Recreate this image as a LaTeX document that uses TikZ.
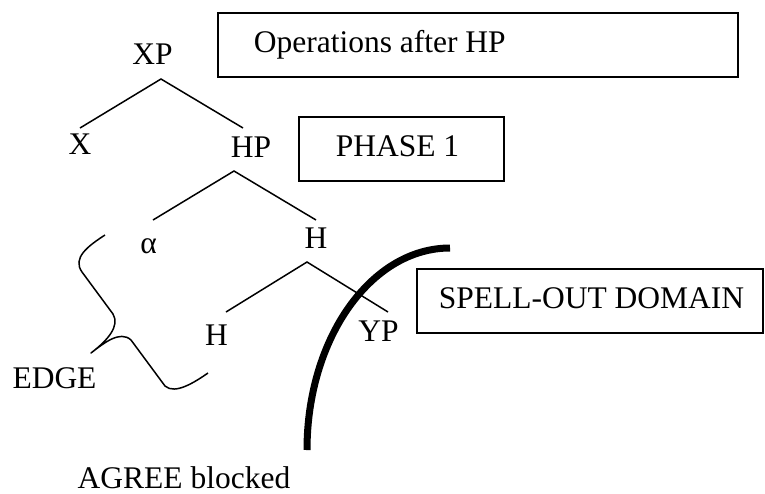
\documentclass[tikz,border=0pt]{standalone}
\usepackage{fontspec}
\setmainfont{Liberation Serif}
\begin{document}
\begin{tikzpicture}[x=1pt,y=-1pt,
  lab/.style={font=\fontsize{31.5}{36}\selectfont, inner sep=0pt, anchor=base},
  box/.style={draw, line width=1.6pt, anchor=north west, minimum height=64pt,
    text height=21pt, text depth=5pt,
    font=\fontsize{31.5}{36}\selectfont},
  branch/.style={line width=1.5pt},
  brace/.style={line width=1.5pt, line join=round}]
\useasboundingbox (0,0) rectangle (765,493);

% labelled boxes (text set flush left in a fixed-width box)
\node[box, inner xsep=36pt] (ops) at (217,12) {\makebox[448pt][l]{Operations after HP}};
\node[box, inner xsep=37pt] (phase) at (298,116) {\makebox[131pt][l]{PHASE 1}};
\node[box, inner xsep=22pt] (spell) at (416,268) {\makebox[302pt][l]{SPELL-OUT DOMAIN}};

% tree labels
\node[lab] (xp) at (152.5,64) {XP};
\node[lab] (x) at (80,154) {X};
\node[lab] (hp) at (251,157) {HP};
\node[lab] (alpha) at (148.5,253) {α};
\node[lab] (hbar) at (316,248) {H};
\node[lab] (h) at (216.5,345) {H};
\node[lab] (yp) at (378.5,341) {YP};
\node[lab] (edge) at (54.5,388) {EDGE};
\node[lab] (agree) at (184,488.5) {AGREE blocked};

% branch points
\coordinate (xpa) at (161,79);
\coordinate (xpl) at (80,128);
\coordinate (xpr) at (243,128);
\coordinate (hpa) at (234,171);
\coordinate (hpl) at (153,220);
\coordinate (hpr) at (316,220);
\coordinate (ha) at (307,262);
\coordinate (hl) at (226,312);
\coordinate (hr) at (388,312);

\draw[branch] (xpl) -- (xpa) -- (xpr);
\draw[branch] (hpl) -- (hpa) -- (hpr);
\draw[branch] (hl) -- (ha) -- (hr);

% brace marking the edge
\draw[brace] (105,235) .. controls (88,246) and (72,258) .. (82,272)
  -- (113,314) .. controls (120,326) and (108,340) .. (91,353)
  .. controls (104,343) and (120,330) .. (131,340)
  -- (165,386) .. controls (175,395) and (195,382) .. (208,373);

% boundary of the spell-out domain
\draw[line width=7pt] (450,248) arc[start angle=-90, end angle=-180, x radius=143, y radius=202];
\end{tikzpicture}
\end{document}
